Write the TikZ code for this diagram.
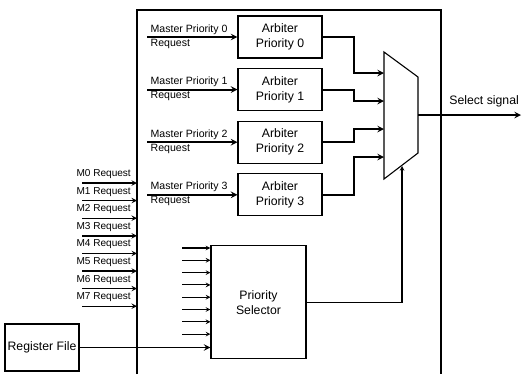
\documentclass[tikz,border=0pt]{standalone}
\usepackage{fontspec}
\setmainfont{Liberation Sans}
\usetikzlibrary{arrows, positioning}

\begin{document}
\begin{tikzpicture}[
    x=1bp, y=-1bp,
    node distance=9.5bp,
    box/.style={rectangle, draw, line width=1.1pt, minimum width=84bp, minimum height=42bp, align=center, inner sep=0pt, font=\fontsize{12.3}{15}\selectfont},
    lbl/.style={inner sep=0pt, font=\fontsize{10.6}{12}\selectfont},
    arrow/.style={->, >=stealth, line width=1.1pt},
    bus/.style={->, >=stealth, line width=1.9pt}
]
\useasboundingbox (0,0) rectangle (522,374);

% Outer block, open at the bottom
\coordinate (blk) at (137,10);
\draw[line width=1.3pt] (137,374) -- (blk) -- (441,10) -- (441,374);

% Arbiters
\node[box] (arb0) at (280,37) {Arbiter\\Priority 0};
\node[box, below=of arb0] (arb1) {Arbiter\\Priority 1};
\node[box, below=of arb1] (arb2) {Arbiter\\Priority 2};
\node[box, below=of arb2] (arb3) {Arbiter\\Priority 3};

% Master priority requests
\foreach \i in {0,...,3} {
    \coordinate[left=90bp of arb\i.west] (mp\i);
    \draw[bus] (mp\i) -- (arb\i.west);
    \node[lbl, anchor=base west] (mpt\i) at ([xshift=3bp, yshift=5bp]mp\i) {Master Priority \i};
    \node[lbl, anchor=base west] (mpb\i) at ([xshift=3bp, yshift=-9bp]mp\i) {Request};
}

% Multiplexer
\coordinate (mux-nw) at (384,52);
\coordinate (mux-ne) at (418,77);
\coordinate (mux-se) at (418,153);
\coordinate (mux-sw) at (384,179);
\draw[line width=1.1pt] (mux-nw) -- (mux-ne) -- (mux-se) -- (mux-sw) -- cycle;
\foreach \i/\y in {0/73, 1/101, 2/129, 3/157}
    \coordinate (min\i) at (384,\y);
\coordinate (mout) at (418,115);
\coordinate (msel) at (402,166);

% Arbiter outputs into the multiplexer
\foreach \i in {0,...,3}
    \draw[bus] (arb\i.east) -- ++(31,0) |- (min\i);

% Select signal
\coordinate (sigend) at (521,115);
\draw[bus] (mout) -- (sigend);
\node[lbl, anchor=base east, font=\fontsize{12.3}{15}\selectfont] (selsig) at ([xshift=-2bp, yshift=11bp]sigend) {Select signal};

% Priority selector
\node[box, minimum width=95bp, minimum height=113bp, below=29bp of arb3, xshift=-21.5bp] (sel) {Priority\\Selector};
\draw[arrow] (sel.east) -| (msel);

% Inputs of the selector
\foreach \i in {0,...,7} {
    \coordinate (sin\i) at (182,248+12.3*\i);
    \draw[arrow] (sin\i) -- (sin\i -| sel.west);
}

% Register file
\node[box, minimum width=74bp, minimum height=47bp] (reg) at (42,347.5) {Register File};
\draw[bus] (reg.east) -- (reg.east -| sel.west);

% Master requests
\foreach \i in {0,...,7} {
    \coordinate (mreq\i) at (82,183+17.6*\i);
    \draw[line width=1.4pt, ->, >=stealth] (mreq\i) -- (mreq\i -| blk);
    \node[lbl, anchor=base east, font=\fontsize{10.1}{12}\selectfont] (mrt\i) at ([xshift=49bp, yshift=6.5bp]mreq\i) {M\i\ Request};
}

\end{tikzpicture}
\end{document}
